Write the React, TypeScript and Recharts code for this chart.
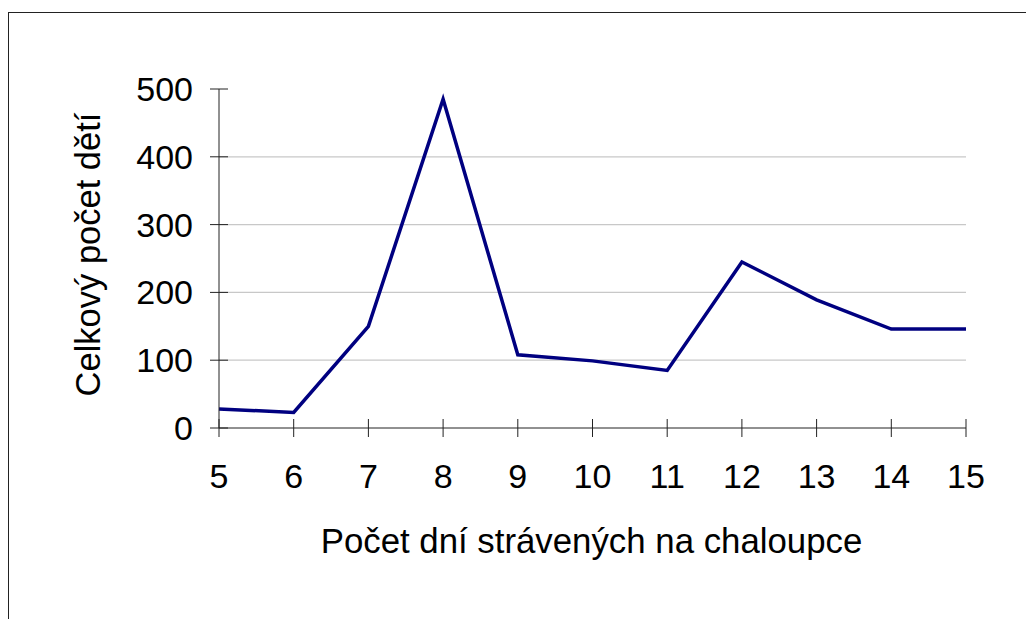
import { LineChart, Line, XAxis, YAxis, CartesianGrid, Label } from 'recharts';

// values
const days = [5, 6, 7, 8, 9, 10, 11, 12, 13, 14, 15];
const children = [28, 23, 150, 485, 108, 99, 85, 245, 189, 146, 146];
const yTicks = [0, 100, 200, 300, 400, 500];
const gridValues = [100, 200, 300, 400];
const xTitle = 'Počet dní strávených na chaloupce';
const yTitle = 'Celkový počet dětí';

const data = days.map((d, i) => ({ day: d, count: children[i] }));

const font = '"Liberation Sans", Arial, sans-serif';
const axisColor = '#222';

function XTick({ x, y, payload }: any) {
    return (
        <g>
            <line x1={x} x2={x} y1={y - 9} y2={y + 9} stroke={axisColor} />
            <text x={x} y={y + 60} textAnchor='middle' fontSize={34} fontFamily={font} fill='#000'>
                {payload.value}
            </text>
        </g>
    );
}

function YTick({ x, y, payload }: any) {
    return (
        <g>
            <line x1={x - 9} x2={x + 9} y1={y} y2={y} stroke={axisColor} />
            <text x={x - 26} y={y + 12} textAnchor='end' fontSize={34} fontFamily={font} fill='#000'>
                {payload.value}
            </text>
        </g>
    );
}

function XTitle({ viewBox }: any) {
    const cx = viewBox.x + viewBox.width / 2 - 1;
    return (
        <text x={cx} y={viewBox.y + 125} textAnchor='middle' fontSize={34.8} fontFamily={font} fill='#000'>
            {xTitle}
        </text>
    );
}

function YTitle({ viewBox }: any) {
    const cx = viewBox.x + 1;
    const cy = viewBox.y + viewBox.height / 2 - 4;
    return (
        <text
            x={cx}
            y={cy}
            transform={`rotate(-90, ${cx}, ${cy})`}
            textAnchor='middle'
            fontSize={34.5}
            fontFamily={font}
            fill='#000'
        >
            {yTitle}
        </text>
    );
}

export default function App() {
    return (
        <div style={{ position: 'absolute', left: 0, top: 0, width: 1026, height: 619, overflow: 'hidden', background: '#fff' }}>
            <div
                style={{
                    position: 'absolute',
                    left: 8,
                    top: 12,
                    width: 1200,
                    height: 800,
                    borderLeft: '1px solid #222',
                    borderTop: '1px solid #222'
                }}
            />
            <div style={{ position: 'absolute', left: 0, top: 0 }}>
                <LineChart width={1026} height={619} data={data} margin={{ top: 89, right: 60, bottom: 91, left: 99 }}>
                    <CartesianGrid vertical={false} horizontalValues={gridValues} stroke='#c8c8c8' strokeWidth={1.2} />
                    <XAxis
                        dataKey='day'
                        type='number'
                        domain={[5, 15]}
                        ticks={days}
                        interval={0}
                        height={100}
                        tickSize={0}
                        tickMargin={0}
                        tickLine={false}
                        axisLine={{ stroke: axisColor }}
                        tick={<XTick />}
                    >
                        <Label content={<XTitle />} />
                    </XAxis>
                    <YAxis
                        type='number'
                        domain={[0, 500]}
                        ticks={yTicks}
                        interval={0}
                        width={120}
                        tickSize={0}
                        tickMargin={0}
                        tickLine={false}
                        axisLine={{ stroke: axisColor }}
                        tick={<YTick />}
                    >
                        <Label content={<YTitle />} />
                    </YAxis>
                    <Line
                        type='linear'
                        dataKey='count'
                        stroke='#000080'
                        strokeWidth={3.5}
                        dot={false}
                        isAnimationActive={false}
                    />
                </LineChart>
            </div>
        </div>
    );
}
